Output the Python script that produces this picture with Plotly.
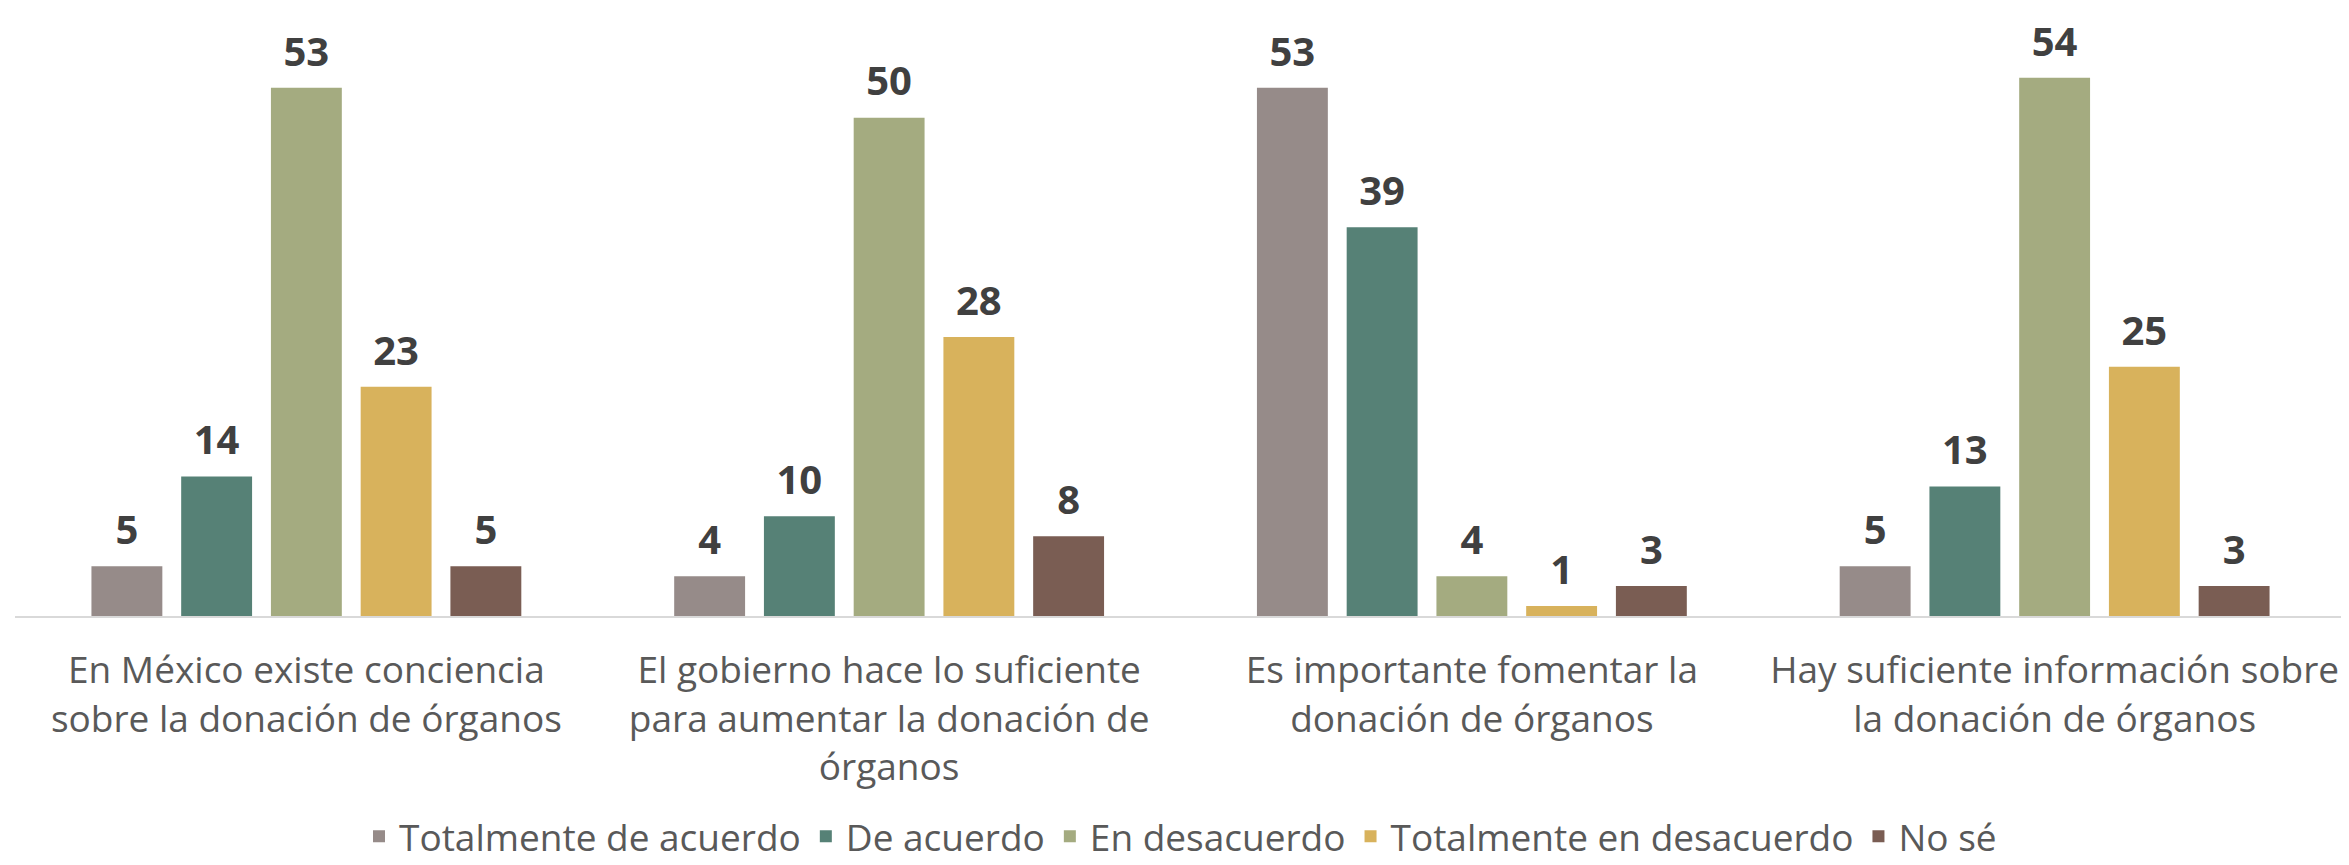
import plotly.graph_objects as go

categorias = [
    "En México existe conciencia<br>sobre la donación de órganos",
    "El gobierno hace lo suficiente<br>para aumentar la donación de<br>órganos",
    "Es importante fomentar la<br>donación de órganos",
    "Hay suficiente información sobre<br>la donación de órganos",
]

totalmente_acuerdo = [5, 4, 53, 5]
de_acuerdo = [14, 10, 39, 13]
en_desacuerdo = [53, 50, 4, 54]
totalmente_desacuerdo = [23, 28, 1, 25]
no_se = [5, 8, 3, 3]

series = [
    ("Totalmente de acuerdo", totalmente_acuerdo, "#968B89"),
    ("De acuerdo", de_acuerdo, "#568176"),
    ("En desacuerdo", en_desacuerdo, "#A4AB80"),
    ("Totalmente en desacuerdo", totalmente_desacuerdo, "#D8B25C"),
    ("No sé", no_se, "#7A5D53"),
]

fig = go.Figure()
for nombre, valores, color in series:
    fig.add_trace(go.Bar(
        name=nombre,
        x=categorias,
        y=valores,
        marker=dict(color=color, line=dict(width=0)),
        hovertemplate="%{y}<extra>" + nombre + "</extra>",
    ))

# etiquetas de datos, separadas un poco de la barra
for nombre, valores, color in series:
    fig.add_trace(go.Scatter(
        x=categorias,
        y=valores,
        mode="markers+text",
        text=valores,
        textposition="top center",
        marker=dict(size=18, opacity=0),
        textfont=dict(family="Open Sans", size=40, color="#404040", weight="bold"),
        cliponaxis=False,
        showlegend=False,
        hoverinfo="skip",
    ))

fig.update_layout(
    barmode="group",
    bargap=0.23,
    bargroupgap=0.21,
    scattermode="group",
    scattergap=0.23,
    width=2349,
    height=865,
    margin=dict(l=7, r=11, t=10, b=257),
    plot_bgcolor="white",
    paper_bgcolor="white",
    font=dict(family="Open Sans", color="#595959"),
    xaxis=dict(
        showline=True,
        linecolor="#D9D9D9",
        linewidth=2,
        tickfont=dict(size=37, color="#595959"),
        ticks="",
        ticklabelstandoff=21,
        automargin=False,
    ),
    yaxis=dict(range=[0, 60], visible=False, showgrid=False),
    legend=dict(
        orientation="h",
        x=0.5,
        xanchor="center",
        yref="container",
        y=0.042,
        yanchor="middle",
        font=dict(size=37, color="#595959"),
        itemwidth=30,
    ),
)

fig.write_html("out.html")
